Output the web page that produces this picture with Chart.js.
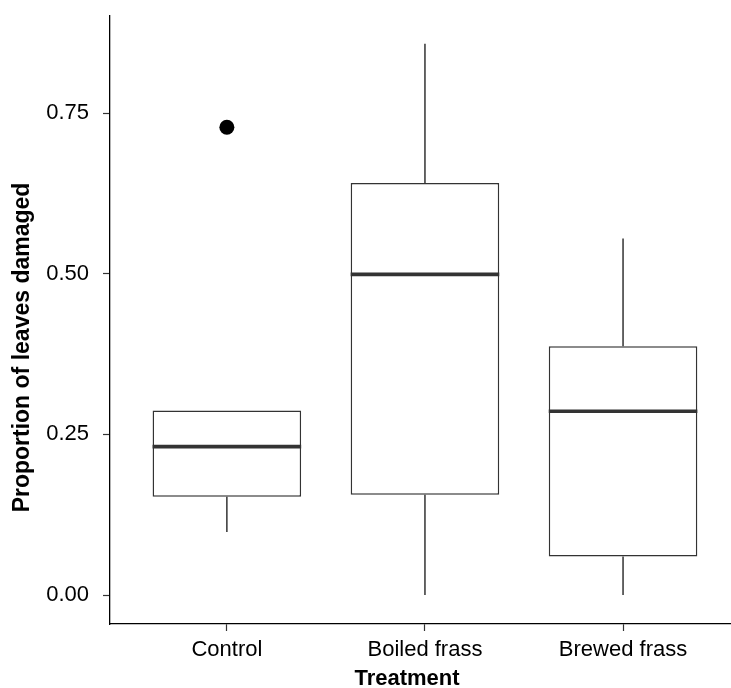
<!DOCTYPE html>
<html>
<head>
<meta charset="utf-8">
<script src="https://cdn.jsdelivr.net/npm/chart.js@4/dist/chart.umd.min.js"></script>
<style>
  html, body { margin: 0; padding: 0; background: #fff; }
  canvas { display: block; }
</style>
</head>
<body>
<canvas id="chart" width="731" height="688"></canvas>
<script>
// Box plot data
const categories = ["Control", "Boiled frass", "Brewed frass"];
const whiskerLow = [0.098, 0.0, 0.0];
const q1 = [0.153, 0.156, 0.060];
const median = [0.231, 0.499, 0.286];
const q3 = [0.287, 0.641, 0.387];
const whiskerHigh = [0.287, 0.858, 0.555];
const outliers = [[0.728], [], []];
const yTicks = [0, 0.25, 0.5, 0.75];

const BOX_WIDTH = 0.75;
const LINE = "#333333";
const FONT = "'Liberation Sans', Arial, sans-serif";

const datasets = [];

// boxes (floating bars)
datasets.push({
  type: "bar",
  data: categories.map((c, i) => ({ x: i + 1, y: [q1[i], q3[i]] })),
  backgroundColor: "#ffffff",
  borderColor: LINE,
  borderWidth: 1.5,
  borderSkipped: false,
  barPercentage: BOX_WIDTH,
  categoryPercentage: 1,
  order: 3,
});

// whiskers and medians
categories.forEach((c, i) => {
  const x = i + 1;
  datasets.push({
    type: "line",
    data: [{ x: x, y: whiskerLow[i] }, { x: x, y: q1[i] }],
    borderColor: LINE, borderWidth: 1.5, pointRadius: 0, order: 2,
  });
  datasets.push({
    type: "line",
    data: [{ x: x, y: q3[i] }, { x: x, y: whiskerHigh[i] }],
    borderColor: LINE, borderWidth: 1.5, pointRadius: 0, order: 2,
  });
  datasets.push({
    type: "line",
    data: [{ x: x - BOX_WIDTH / 2, y: median[i] }, { x: x + BOX_WIDTH / 2, y: median[i] }],
    borderColor: LINE, borderWidth: 3.6, pointRadius: 0, order: 1,
  });
});

// outliers
datasets.push({
  type: "line",
  showLine: false,
  data: outliers.flatMap((vals, i) => vals.map(v => ({ x: i + 1, y: v }))),
  pointRadius: 7.5,
  pointBackgroundColor: "#000",
  pointBorderWidth: 0,
  order: 0,
});

const axisTitles = {
  id: "axisTitles",
  afterDraw(chart) {
    const ctx = chart.ctx;
    ctx.save();
    ctx.fillStyle = "#000";
    ctx.font = "bold 22px " + FONT;
    ctx.textAlign = "center";
    ctx.textBaseline = "alphabetic";
    ctx.fillText("Treatment", 407, 685);
    ctx.translate(29, 347.5);
    ctx.rotate(-Math.PI / 2);
    ctx.font = "bold 23px " + FONT;
    ctx.fillText("Proportion of leaves damaged", 0, 0);
    ctx.restore();
  },
};

Chart.defaults.font.family = FONT;

new Chart(document.getElementById("chart"), {
  data: { datasets },
  options: {
    responsive: false,
    animation: false,
    layout: { autoPadding: false, padding: { top: 16, right: 0, left: 0, bottom: 0 } },
    plugins: { legend: { display: false }, tooltip: { enabled: false } },
    scales: {
      x: {
        type: "linear",
        offset: false,
        min: 0.41,
        max: 3.545,
        afterBuildTicks: (s) => { s.ticks = categories.map((c, i) => ({ value: i + 1 })); },
        afterFit: (s) => { s.height = 64; s.paddingLeft = 0; s.paddingRight = 0; },
        ticks: {
          callback: (v) => categories[v - 1],
          color: "#000",
          font: { size: 22 },
          padding: 6,
          maxRotation: 0,
          autoSkip: false,
        },
        grid: { offset: false, drawOnChartArea: false, drawTicks: true, tickLength: 7, tickColor: LINE, tickWidth: 1.2 },
        border: { display: true, color: "#000", width: 1.3 },
      },
      y: {
        type: "linear",
        min: -0.045,
        max: 0.901,
        afterBuildTicks: (s) => { s.ticks = yTicks.map(v => ({ value: v })); },
        afterFit: (s) => { s.width = 110; s.paddingTop = 0; s.paddingBottom = 0; },
        ticks: {
          callback: (v) => v.toFixed(2),
          color: "#000",
          font: { size: 22 },
          padding: 14,
        },
        grid: { drawOnChartArea: false, drawTicks: true, tickLength: 7, tickColor: LINE, tickWidth: 1.2 },
        border: { display: true, color: "#000", width: 1.3 },
      },
    },
  },
  plugins: [axisTitles],
});
</script>
</body>
</html>
